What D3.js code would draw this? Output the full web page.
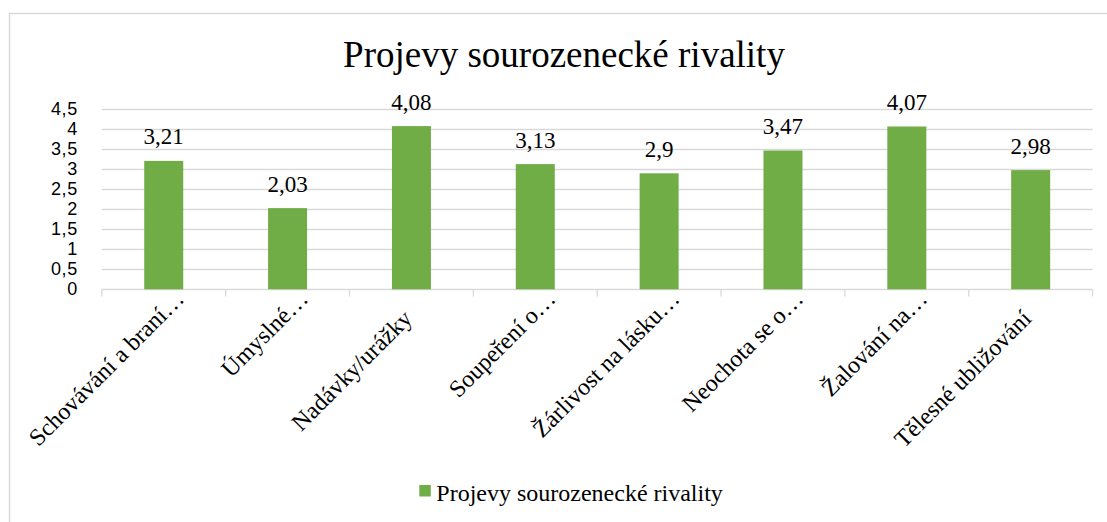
<!DOCTYPE html>
<html lang="cs">
<head>
<meta charset="utf-8">
<script src="https://cdn.jsdelivr.net/npm/d3@7"></script>
<style>
  html, body { margin: 0; padding: 0; background: #fff; }
  svg { display: block; }
</style>
</head>
<body>
<svg id="chart" width="1107" height="522"></svg>
<script>
const chartTitle = "Projevy sourozenecké rivality";
const seriesName = "Projevy sourozenecké rivality";
const categories = [
  "Schovávání a braní…",
  "Úmyslné…",
  "Nadávky/urážky",
  "Soupeření o…",
  "Žárlivost na lásku…",
  "Neochota se o…",
  "Žalování na…",
  "Tělesné ubližování"
];
const values = [3.21, 2.03, 4.08, 3.13, 2.9, 3.47, 4.07, 2.98];
const yTicks = [0, 0.5, 1, 1.5, 2, 2.5, 3, 3.5, 4, 4.5];

const BAR_COLOR = "#70ad47";
const LINE_COLOR = "#d9d9d9";
const SERIF = "'Liberation Serif', 'Times New Roman', 'DejaVu Serif', serif";
const SANS = "'Liberation Sans', Arial, sans-serif";

function formatCz(value) {
  return String(value).replace(".", ",");
}

const svg = d3.select("#chart");
const plot = { left: 101.8, right: 1092.6, top: 109.3, bottom: 289.3 };

// chart area border
svg.append("rect")
  .attr("x", 9.5)
  .attr("y", 13.5)
  .attr("width", 1120)
  .attr("height", 530)
  .attr("fill", "#fff")
  .attr("stroke", LINE_COLOR)
  .attr("stroke-width", 1.5);

const x = d3.scaleBand()
  .domain(categories)
  .range([plot.left, plot.right])
  .paddingInner(0.685)
  .paddingOuter(0.3425);

const y = d3.scaleLinear()
  .domain([0, 4.5])
  .range([plot.bottom, plot.top]);

// gridlines
svg.append("g")
  .selectAll("line")
  .data(yTicks.filter((tick) => tick > 0))
  .join("line")
  .attr("x1", plot.left)
  .attr("x2", plot.right)
  .attr("y1", (tick) => Math.round(y(tick)) + 0.5)
  .attr("y2", (tick) => Math.round(y(tick)) + 0.5)
  .attr("stroke", LINE_COLOR)
  .attr("stroke-width", 1.3);

// y axis labels
const yAxis = svg.append("g")
  .attr("transform", `translate(${plot.left},0)`)
  .call(d3.axisLeft(y).tickValues(yTicks).tickFormat(formatCz).tickSize(0).tickPadding(24));

yAxis.select(".domain").remove();
yAxis.selectAll("text")
  .attr("dy", "0.3em")
  .style("font-family", SANS)
  .style("font-size", "18px")
  .style("letter-spacing", "0.6px")
  .attr("fill", "#000");

// x axis line and category boundary ticks
const xAxis = svg.append("g");
const baseline = Math.round(y(0)) + 0.5;

xAxis.append("line")
  .attr("x1", plot.left)
  .attr("x2", plot.right)
  .attr("y1", baseline)
  .attr("y2", baseline)
  .attr("stroke", LINE_COLOR)
  .attr("stroke-width", 1.3);

xAxis.selectAll("line.tick")
  .data(d3.range(categories.length + 1))
  .join("line")
  .attr("class", "tick")
  .attr("x1", (index) => plot.left + index * x.step())
  .attr("x2", (index) => plot.left + index * x.step())
  .attr("y1", baseline)
  .attr("y2", baseline + 7)
  .attr("stroke", LINE_COLOR)
  .attr("stroke-width", 1.3);

// bars
svg.append("g")
  .selectAll("rect")
  .data(values)
  .join("rect")
  .attr("x", (value, index) => x(categories[index]))
  .attr("y", (value) => y(value))
  .attr("width", x.bandwidth())
  .attr("height", (value) => y(0) - y(value))
  .attr("fill", BAR_COLOR);

// value labels
svg.append("g")
  .selectAll("text")
  .data(values)
  .join("text")
  .style("font-family", SERIF)
  .style("font-size", "23px")
  .attr("x", (value, index) => x(categories[index]) + x.bandwidth() / 2)
  .attr("y", (value) => y(value) - 16.5)
  .attr("text-anchor", "middle")
  .text(formatCz);

// rotated category labels, truncated ones reach a little further
svg.append("g")
  .selectAll("text")
  .data(categories)
  .join("text")
  .style("font-family", SERIF)
  .style("font-size", "24px")
  .attr("text-anchor", "end")
  .attr("transform", (label) => {
    const shift = label.endsWith("…") ? 28 * Math.SQRT1_2 : 0;
    const cx = x(label) + x.bandwidth() / 2 + 2 + shift;
    const cy = 320 - shift;
    return `translate(${cx},${cy}) rotate(-45)`;
  })
  .text((label) => label);

// title
svg.append("text")
  .style("font-family", SERIF)
  .style("font-size", "37px")
  .attr("x", 564)
  .attr("y", 66.5)
  .attr("text-anchor", "middle")
  .text(chartTitle);

// legend
const legend = svg.append("g").attr("transform", "translate(419.3,485)");

legend.append("rect")
  .attr("width", 11.5)
  .attr("height", 11.5)
  .attr("fill", BAR_COLOR);

legend.append("text")
  .style("font-family", SERIF)
  .style("font-size", "24px")
  .attr("x", 17)
  .attr("y", 16)
  .text(seriesName);
</script>
</body>
</html>
